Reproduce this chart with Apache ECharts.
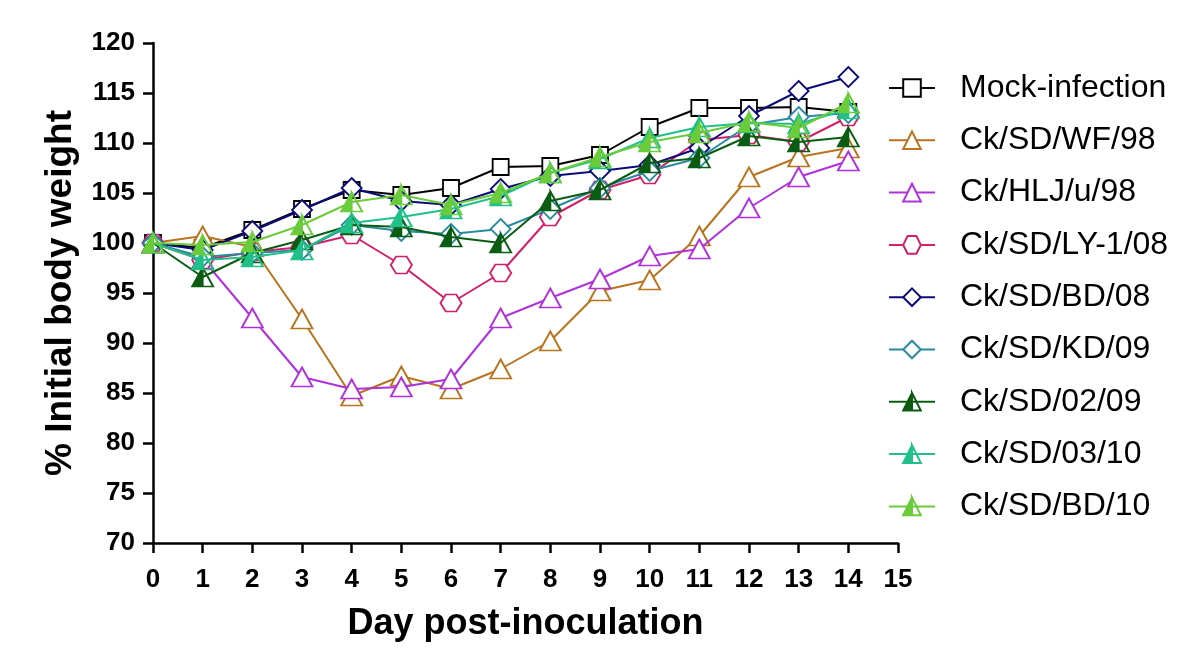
<!DOCTYPE html>
<html>
<head>
<meta charset="utf-8">
<script src="https://cdn.jsdelivr.net/npm/echarts@6/dist/echarts.min.js"></script>
<style>html,body{margin:0;padding:0;background:#fff;}#c{width:1200px;height:656px;}</style>
</head>
<body>
<div id="c"></div>
<script>
const days = [0,1,2,3,4,5,6,7,8,9,10,11,12,13,14];
const seriesNames = ['Mock-infection','Ck/SD/WF/98','Ck/HLJ/u/98','Ck/SD/LY-1/08','Ck/SD/BD/08','Ck/SD/KD/09','Ck/SD/02/09','Ck/SD/03/10','Ck/SD/BD/10'];
const mock   = [100, 99.5, 101.3, 103.4, 105.3, 104.8, 105.5, 107.6, 107.7, 108.8, 111.6, 113.5, 113.5, 113.6, 113.1];
const wf98   = [100, 100.7, 99.6, 92.4, 84.7, 86.7, 85.4, 87.4, 90.2, 95.2, 96.3, 100.7, 106.6, 108.6, 109.5];
const hlj98  = [100, 98.4, 92.5, 86.6, 85.4, 85.6, 86.4, 92.5, 94.5, 96.4, 98.7, 99.4, 103.5, 106.6, 108.2];
const ly108  = [100, 98.3, 99.1, 99.6, 100.8, 97.8, 94.0, 97.0, 102.6, 105.3, 106.8, 110.3, 110.8, 110.1, 112.6];
const bd08   = [100, 99.3, 101.2, 103.3, 105.5, 104.2, 103.8, 105.4, 106.7, 107.2, 107.8, 109.5, 112.7, 115.2, 116.6];
const kd09   = [100, 98.6, 99.0, 99.3, 101.8, 101.2, 100.9, 101.4, 103.4, 105.5, 107.2, 108.5, 111.8, 112.6, 113.0];
const sd0209 = [100, 96.6, 99.0, 100.3, 101.8, 101.6, 100.6, 100.0, 104.2, 105.3, 108.0, 108.5, 110.7, 110.1, 110.6];
const sd0310 = [100, 98.3, 98.6, 99.3, 102.0, 102.6, 103.4, 104.7, 107.0, 108.4, 110.5, 111.6, 112.0, 111.9, 113.4];
const bd10   = [100, 99.8, 100.1, 101.8, 104.1, 104.8, 103.8, 105.0, 107.0, 108.6, 110.1, 111.0, 112.1, 111.5, 114.0];
const allValues = [mock, wf98, hlj98, ly108, bd08, kd09, sd0209, sd0310, bd10];

const colors = ['#000000','#b8731e','#b030dc','#d0206a','#0c0c78','#2a8aa0','#0a5c12','#20c088','#6acc3a'];
const hexagon = 'path://M5,0 L15,0 L20,8.66 L15,17.32 L5,17.32 L0,8.66 Z';
const halfTri = 'path://M10,0 L20,18 L0,18 Z M10,0 L10,18 L20,18 Z';
const symbols = ['rect','triangle','triangle',hexagon,'diamond','diamond',halfTri,halfTri,halfTri];
const sizes = [[16,16],[21,19],[21,19],[21,17],[20,20],[20,20],[21,19],[21,19],[21,19]];
const filled = [false,false,false,false,false,false,true,true,true];

const series = seriesNames.map((name, i) => ({
  name: name,
  type: 'line',
  data: days.map((d, j) => [d, allValues[i][j]]),
  symbol: symbols[i],
  symbolSize: sizes[i],
  showAllSymbol: true,
  lineStyle: { color: colors[i], width: 2 },
  itemStyle: { color: filled[i] ? colors[i] : '#ffffff', borderColor: colors[i], borderWidth: 1.8 },
  emphasis: { disabled: true },
  z: 2 + i
}));

const chart = echarts.init(document.getElementById('c'), null, { renderer: 'canvas' });
chart.setOption({
  animation: false,
  backgroundColor: '#ffffff',
  grid: { left: 153, right: 302, top: 43, bottom: 113, containLabel: false },
  xAxis: {
    type: 'value', min: 0, max: 15, interval: 1,
    name: 'Day post-inoculation', nameLocation: 'middle', nameGap: 63,
    nameTextStyle: { fontFamily: 'Liberation Sans', fontWeight: 'bold', fontSize: 36, color: '#000' },
    axisLine: { show: true, onZero: false, lineStyle: { color: '#000', width: 2.5 } },
    axisTick: { show: true, inside: false, length: 10, lineStyle: { color: '#000', width: 2.5 } },
    axisLabel: { fontFamily: 'Liberation Sans', fontWeight: 'bold', fontSize: 26, color: '#000', margin: 24 },
    splitLine: { show: false }
  },
  yAxis: {
    type: 'value', min: 70, max: 120, interval: 5,
    name: '% Initial body weight', nameLocation: 'middle', nameGap: 74, nameRotate: 90,
    nameTextStyle: { fontFamily: 'Liberation Sans', fontWeight: 'bold', fontSize: 37, color: '#000' },
    axisLine: { show: true, onZero: false, lineStyle: { color: '#000', width: 2.5 } },
    axisTick: { show: true, inside: false, length: 10, lineStyle: { color: '#000', width: 2.5 } },
    axisLabel: { fontFamily: 'Liberation Sans', fontWeight: 'bold', fontSize: 26, color: '#000', margin: 18 },
    splitLine: { show: false }
  },
  legend: {
    orient: 'vertical', left: 883, top: 67,
    itemWidth: 46, itemHeight: 22, itemGap: 20.3,
    data: seriesNames,
    textStyle: { fontFamily: 'Liberation Sans', fontSize: 32, color: '#000', lineHeight: 30, padding: [0,0,0,20] },
    selectedMode: false
  },
  series: series
});
</script>
</body>
</html>
